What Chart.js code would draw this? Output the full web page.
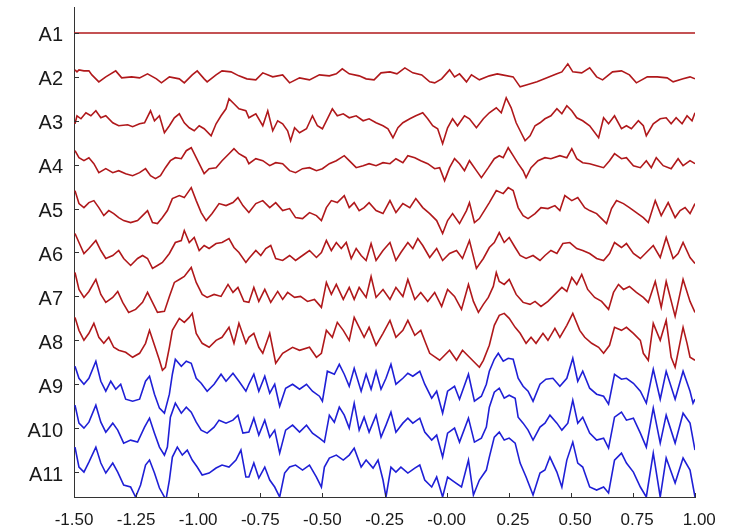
<!DOCTYPE html>
<html>
<head>
<meta charset="utf-8">
<title>EEG channels A1-A11</title>
<script src="https://cdn.jsdelivr.net/npm/chart.js@4.4.1/dist/chart.umd.min.js"></script>
<style>
    html, body { margin: 0; padding: 0; background: #fff; }
    #wrap { width: 740px; height: 529px; }
</style>
</head>
<body>
<div id="wrap"><canvas id="eegChart" width="740" height="529"></canvas></div>
<script>
// samples are [index, value]; index at 250 Hz from -1.5 s, value in uV around the channel baseline
const SAMPLE_RATE = 250;
const START_TIME = -1.5;
const CHANNEL_SPACING = 44;

const channelNames = ["A1", "A2", "A3", "A4", "A5", "A6", "A7", "A8", "A9", "A10", "A11"];

const xTickValues = [-1.5, -1.25, -1.0, -0.75, -0.5, -0.25, 0, 0.25, 0.5, 0.75, 1.0];
const xTickLabels = ["-1.50", "-1.25", "-1.00", "-0.75", "-0.50", "-0.25", "-0.00", "0.25", "0.50", "0.75", "1.00"];

const channelA1 = [[0, 0], [625, 0]];

const channelA2 = [[1,7],[3,5],[5,7],[10,6],[15,6],[18,2],[25,-5],[32,0],[42,6],[48,-1],[58,0],[66,-1],[74,3],[83,-2],[88,-6],[96,0],[106,-2],[111,-6],[119,2],[124,6],[131,-2],[134,-5],[143,2],[149,6],[158,5],[166,1],[174,-2],[183,-3],[190,4],[200,0],[210,2],[217,-6],[227,-1],[237,-3],[247,2],[257,1],[264,3],[270,8],[277,3],[287,1],[294,-2],[302,-3],[309,4],[318,5],[325,3],[333,9],[341,4],[350,2],[358,-5],[363,-6],[370,-2],[378,7],[383,0],[388,3],[395,-5],[400,2],[408,-3],[418,1],[426,3],[431,2],[442,0],[449,-10],[456,-8],[466,-5],[476,-1],[486,3],[491,5],[497,13],[502,5],[511,4],[519,9],[526,0],[532,-3],[542,5],[551,6],[559,2],[566,-6],[577,0],[587,0],[597,-1],[603,-5],[613,-2],[620,0],[625,-2]];

const channelA3 = [[1,-3],[3,5],[7,2],[12,8],[17,5],[22,10],[27,3],[32,5],[39,-2],[45,-5],[54,-4],[59,-6],[66,-3],[71,-2],[77,10],[81,0],[86,5],[91,-12],[96,-5],[101,3],[106,7],[111,-2],[116,-7],[121,-10],[126,-5],[131,-8],[138,-15],[143,-3],[148,5],[153,12],[156,22],[161,17],[166,12],[173,10],[176,3],[183,7],[190,-5],[195,10],[200,-10],[205,0],[210,-3],[215,-10],[218,-20],[222,-7],[227,-12],[234,-8],[240,5],[245,-5],[250,-8],[255,2],[260,12],[265,5],[271,7],[277,3],[284,5],[291,0],[297,2],[304,-2],[311,-5],[316,-8],[321,-17],[326,-7],[331,-2],[338,2],[344,5],[351,8],[356,2],[361,-5],[366,-8],[371,-23],[376,-7],[381,2],[386,-5],[393,5],[398,2],[405,-7],[412,2],[418,8],[425,13],[430,8],[435,23],[440,13],[445,-2],[450,-12],[454,-20],[459,-15],[464,-5],[469,-2],[474,2],[480,5],[486,12],[491,7],[496,15],[501,10],[506,3],[512,0],[519,-5],[528,-17],[533,3],[538,-3],[544,5],[551,-8],[556,-5],[561,-8],[568,0],[573,-5],[576,-15],[583,-3],[590,2],[596,3],[601,-3],[606,3],[612,-3],[617,5],[622,0],[625,8]];

const channelA4 = [[1,14],[5,7],[10,4],[15,7],[20,1],[25,-8],[32,-4],[39,-8],[45,-6],[52,-9],[59,-11],[66,-8],[72,-4],[77,-11],[82,-14],[87,-11],[92,-3],[97,4],[102,7],[108,6],[113,14],[118,17],[123,7],[128,-3],[131,-9],[136,-4],[143,-3],[149,4],[156,11],[161,16],[166,11],[173,7],[176,1],[183,6],[190,4],[197,-1],[203,2],[210,1],[217,-6],[223,-8],[230,-4],[237,-3],[244,-6],[250,-4],[257,1],[264,4],[272,9],[277,4],[284,-3],[291,-1],[297,1],[304,-1],[311,2],[318,1],[324,6],[331,2],[336,9],[343,7],[349,4],[356,1],[363,-4],[368,-3],[373,-16],[378,-3],[383,6],[388,1],[393,-6],[398,4],[405,-6],[410,-13],[417,-3],[423,6],[428,9],[432,7],[437,17],[442,9],[447,1],[452,-6],[455,-13],[460,-3],[467,4],[474,7],[480,6],[489,9],[496,7],[501,16],[506,6],[512,2],[519,1],[526,-1],[533,-3],[539,4],[544,11],[551,6],[556,7],[563,-1],[570,-3],[576,4],[581,-3],[586,7],[593,-1],[601,-4],[608,6],[613,-1],[620,4],[625,1]];

const channelA5 = [[1,18],[5,5],[10,1],[15,6],[20,8],[25,1],[30,-7],[35,-2],[40,-5],[45,-9],[50,-12],[57,-14],[64,-12],[69,-7],[74,-2],[79,-14],[84,-15],[89,-9],[94,-2],[99,10],[106,13],[111,11],[118,21],[123,8],[128,-4],[133,-12],[139,-5],[146,5],[153,3],[160,6],[165,11],[170,3],[176,-4],[183,5],[190,8],[197,1],[203,6],[210,-2],[217,0],[223,-9],[230,-10],[237,-4],[244,-7],[249,-12],[254,1],[259,8],[265,6],[272,13],[277,1],[282,6],[287,-2],[292,1],[297,6],[304,-2],[311,-5],[318,8],[324,-4],[331,5],[338,1],[344,10],[351,1],[358,-5],[365,-12],[371,-25],[376,-12],[381,-5],[388,-15],[395,-2],[398,6],[403,-14],[408,-10],[413,-2],[418,6],[425,18],[432,15],[437,21],[442,18],[447,1],[452,-7],[457,-10],[464,-5],[470,1],[477,0],[484,3],[489,-2],[494,13],[501,8],[507,11],[514,1],[519,-2],[526,-5],[531,-10],[536,-15],[541,0],[546,8],[553,5],[559,1],[566,-4],[573,-9],[578,-14],[585,8],[591,-7],[598,6],[605,-9],[610,-2],[615,1],[620,-5],[625,5]];

const channelA6 = [[1,19],[5,10],[10,-1],[15,4],[22,12],[27,2],[32,-6],[39,-3],[45,2],[50,-6],[57,-13],[64,-6],[69,-3],[74,-6],[79,-16],[84,-13],[89,-10],[96,-1],[102,10],[108,12],[111,22],[116,10],[121,15],[126,2],[131,7],[136,4],[143,9],[149,10],[156,14],[161,5],[166,0],[173,-10],[176,-6],[183,2],[188,-3],[193,4],[198,7],[203,-6],[210,-8],[217,-3],[223,-8],[230,-3],[237,2],[244,-5],[249,0],[254,12],[259,2],[264,10],[269,4],[274,10],[279,-6],[284,4],[289,-3],[294,-8],[299,9],[304,-8],[311,2],[318,10],[324,-8],[329,0],[336,10],[341,4],[346,14],[351,7],[358,-5],[365,4],[371,-8],[378,-1],[385,2],[391,-6],[398,12],[405,-16],[412,-6],[418,5],[423,10],[428,20],[433,10],[438,15],[444,5],[449,-3],[455,-6],[462,-3],[469,-8],[474,-3],[480,2],[486,-1],[492,9],[499,10],[506,4],[512,2],[519,-1],[526,-6],[533,-8],[539,-1],[544,10],[551,5],[556,9],[563,-1],[570,-6],[576,0],[583,7],[590,-5],[596,15],[603,-6],[608,-1],[613,10],[620,-5],[625,-11]];

const channelA7 = [[1,24],[5,7],[10,-1],[15,5],[22,17],[27,2],[32,-6],[39,-1],[44,5],[49,-6],[55,-16],[62,-13],[69,-6],[74,4],[79,-6],[84,-16],[91,-15],[96,0],[101,14],[106,17],[111,20],[118,29],[123,14],[129,2],[134,-1],[141,2],[148,0],[155,12],[160,4],[165,9],[171,-5],[176,-6],[181,9],[186,-5],[192,7],[198,-6],[205,5],[210,-3],[215,4],[222,-1],[228,0],[235,-5],[242,-3],[249,-11],[254,14],[259,2],[264,12],[271,-3],[277,9],[282,-3],[287,9],[294,-1],[299,20],[304,-1],[311,7],[318,-3],[324,9],[331,0],[336,17],[343,-3],[349,4],[356,-5],[363,4],[370,-10],[376,7],[383,0],[390,-13],[397,12],[402,-5],[407,-16],[412,-8],[417,-1],[422,10],[425,24],[428,15],[433,12],[438,17],[445,2],[452,-6],[459,-8],[464,-5],[470,-10],[477,-5],[484,2],[491,9],[496,5],[501,19],[506,12],[511,22],[517,7],[524,-1],[531,-5],[538,-13],[543,4],[548,12],[553,7],[559,10],[566,4],[573,-1],[578,-6],[585,15],[591,-11],[596,15],[605,-20],[613,17],[620,-5],[625,-16]];

const channelA8 = [[1,23],[5,10],[10,0],[15,7],[20,17],[25,3],[30,-3],[35,3],[40,-7],[45,-10],[52,-12],[59,-17],[66,-13],[72,-3],[76,10],[81,-5],[86,-20],[89,-30],[92,-27],[96,-7],[99,10],[106,22],[111,18],[116,23],[119,27],[123,7],[129,-3],[136,-7],[143,0],[149,3],[156,13],[161,-3],[166,17],[173,-3],[176,3],[181,7],[186,-7],[190,-13],[197,7],[203,-23],[210,-13],[220,-7],[227,-10],[237,-7],[244,-17],[249,-13],[254,10],[260,3],[265,18],[271,10],[277,0],[282,23],[287,13],[292,3],[297,13],[304,-5],[311,7],[318,20],[324,3],[331,10],[336,20],[343,5],[349,10],[354,-3],[358,-13],[368,-20],[378,-10],[385,-20],[391,-10],[398,-17],[408,-27],[412,-20],[418,-5],[423,15],[428,25],[433,27],[438,22],[444,13],[449,7],[455,-3],[460,3],[465,-3],[472,7],[477,0],[484,12],[489,3],[496,15],[502,27],[509,10],[514,3],[521,-3],[528,-7],[533,-13],[539,-5],[544,13],[551,10],[556,13],[563,7],[570,0],[573,-13],[578,-20],[583,17],[590,0],[596,20],[601,-17],[605,-27],[613,13],[617,-3],[620,-17],[625,-20]];

const channelA9 = [[1,18],[5,6],[10,0],[15,6],[22,23],[27,3],[32,-7],[37,3],[42,-5],[47,0],[52,-15],[59,-17],[66,-15],[72,3],[76,8],[81,-10],[86,-24],[91,-29],[96,-10],[99,10],[102,25],[108,18],[113,23],[118,21],[123,6],[128,1],[134,-7],[141,0],[148,10],[153,3],[160,11],[166,3],[173,-7],[176,0],[181,10],[186,-7],[192,8],[197,-9],[202,0],[207,-22],[213,-4],[220,0],[227,-5],[234,0],[240,-7],[247,-12],[250,-17],[255,13],[262,10],[267,20],[272,10],[277,-2],[282,16],[289,-7],[294,10],[299,-5],[304,13],[309,-5],[314,6],[319,20],[324,0],[331,6],[336,11],[341,8],[348,13],[353,0],[360,-14],[365,-7],[371,-29],[376,-7],[383,-2],[388,-15],[397,10],[403,-17],[410,-12],[415,0],[418,13],[423,25],[427,31],[432,23],[437,26],[442,25],[447,6],[452,-2],[457,-7],[462,-17],[469,0],[475,5],[482,6],[489,-2],[496,6],[502,26],[507,3],[512,13],[519,-4],[526,-10],[533,-12],[538,-20],[544,10],[551,5],[556,6],[563,1],[570,-7],[576,-19],[583,15],[590,-15],[596,13],[605,-15],[613,13],[620,-7],[623,-19],[625,-15]];

const channelA10 = [[1,23],[5,5],[10,0],[15,6],[22,23],[27,6],[32,-4],[39,5],[44,-2],[50,-15],[57,-12],[64,-14],[71,1],[76,10],[81,-5],[86,-19],[91,-27],[94,-19],[97,11],[102,25],[108,15],[113,21],[118,16],[123,6],[128,-2],[134,-5],[141,1],[146,8],[153,5],[160,8],[165,13],[170,-5],[176,-4],[181,10],[186,-7],[192,8],[197,-9],[202,-2],[207,-25],[213,-2],[220,3],[227,-4],[234,3],[240,-5],[247,-10],[252,-14],[257,13],[262,6],[267,21],[272,13],[277,0],[282,25],[287,-2],[292,11],[297,-4],[304,13],[309,-9],[314,3],[319,16],[324,-4],[331,5],[336,10],[341,5],[348,10],[353,-4],[360,-12],[365,-7],[371,-29],[376,-5],[383,0],[388,-14],[397,10],[403,-14],[410,-10],[415,1],[418,21],[423,36],[428,40],[433,30],[438,33],[444,30],[447,11],[452,5],[457,-2],[462,-12],[469,1],[474,5],[479,13],[486,5],[491,-2],[497,5],[502,28],[507,5],[512,11],[519,-5],[526,-12],[533,-10],[538,-20],[544,11],[551,16],[556,8],[563,10],[570,-5],[576,-19],[583,20],[590,-15],[596,13],[605,-15],[613,15],[620,5],[625,-22]];

const channelA11 = [[1,25],[5,5],[10,0],[15,10],[22,25],[27,9],[32,-1],[39,9],[44,0],[50,-13],[57,-15],[62,-25],[67,-13],[72,7],[76,12],[81,-1],[86,-16],[91,-25],[92,-31],[96,-8],[99,15],[104,25],[109,17],[114,22],[119,12],[124,5],[129,-3],[136,-1],[143,4],[149,7],[156,5],[163,12],[168,22],[173,-5],[176,-5],[181,9],[186,-6],[192,5],[197,-8],[202,-15],[207,-25],[212,-1],[217,5],[223,7],[230,2],[237,7],[244,-5],[249,-15],[252,5],[257,14],[264,17],[271,12],[277,17],[282,24],[289,5],[294,12],[301,4],[306,12],[311,-8],[314,-25],[319,5],[324,0],[329,5],[336,-1],[343,4],[348,7],[353,-8],[360,-15],[365,-5],[371,-25],[376,-5],[383,-10],[390,-15],[397,12],[402,-23],[408,-8],[415,2],[418,15],[423,35],[428,40],[433,32],[438,34],[444,29],[449,9],[455,-5],[462,-23],[469,-1],[474,2],[479,15],[486,0],[491,-15],[496,12],[502,30],[507,9],[512,5],[519,-15],[526,-18],[533,-15],[538,-21],[544,12],[551,19],[556,9],[563,0],[570,-15],[576,-25],[583,19],[590,-25],[596,14],[605,-11],[613,14],[620,2],[625,-25]];

const channelSamples =
[
    channelA1, channelA2, channelA3, channelA4, channelA5, channelA6,
    channelA7, channelA8, channelA9, channelA10, channelA11
];

// channels from A9 on are drawn in blue
const FIRST_BLUE_CHANNEL = 8;
const RED = "#b0181b";
const BLUE = "#1f1fd6";
const AXIS_COLOR = "#333333";
const TEXT_COLOR = "#1a1a1a";
const FONT_FAMILY = "'Liberation Sans', Arial, Helvetica, sans-serif";

function channelBaseline(index)
{
    return (channelNames.length - 1 - index) * CHANNEL_SPACING;
}

function toPoints(samples, baseline)
{
    return samples.map((s) =>
    {
        return {
            x: START_TIME + s[0] / SAMPLE_RATE,
            y: baseline + s[1]
        };
    });
}

function createDatasets()
{
    return channelSamples.map((samples, index) =>
    {
        const color = index >= FIRST_BLUE_CHANNEL ? BLUE : RED;

        return {
            label: channelNames[index],
            data: toPoints(samples, channelBaseline(index)),
            borderColor: color,
            backgroundColor: color,
            borderWidth: 1.6,
            pointRadius: 0,
            tension: 0,
            fill: false
        };
    });
}

// MATLAB style ticks pointing into the plot
const inwardTicks =
{
    id: "inwardTicks",
    afterDraw(chart)
    {
        const ctx = chart.ctx;
        const xScale = chart.scales.x;
        const yScale = chart.scales.y;

        ctx.save();
        ctx.strokeStyle = AXIS_COLOR;
        ctx.lineWidth = 1;
        ctx.beginPath();

        xTickValues.forEach((value) =>
        {
            const px = Math.round(xScale.getPixelForValue(value)) + 0.5;
            ctx.moveTo(px, yScale.bottom);
            ctx.lineTo(px, yScale.bottom - 4);
        });

        channelNames.forEach((name, index) =>
        {
            const py = Math.round(yScale.getPixelForValue(channelBaseline(index))) + 0.5;
            ctx.moveTo(xScale.left, py);
            ctx.lineTo(xScale.left + 5, py);
        });

        ctx.stroke();
        ctx.restore();
    }
};

window.addEventListener("load", () =>
{
    if (typeof Chart === "undefined")
    {
        console.warn("Chart.js not loaded");
        return;
    }

    const canvas = document.getElementById("eegChart");

    new Chart(canvas.getContext("2d"),
    {
        type: "line",
        data:
        {
            datasets: createDatasets()
        },
        options:
        {
            animation: false,
            responsive: false,
            parsing: false,
            normalized: true,
            layout:
            {
                padding: { left: 0, right: 45, top: 7, bottom: 0 }
            },
            plugins:
            {
                legend: { display: false },
                tooltip: { enabled: false }
            },
            scales:
            {
                x:
                {
                    type: "linear",
                    min: -1.5,
                    max: 1.0,
                    afterBuildTicks(scale)
                    {
                        scale.ticks = xTickValues.map((value) =>
                        {
                            return { value: value };
                        });
                    },
                    afterFit(scale)
                    {
                        scale.height = 32;
                        scale.paddingLeft = 0;
                        scale.paddingRight = 0;
                    },
                    grid: { display: false, drawTicks: false },
                    border: { display: true, color: AXIS_COLOR, width: 1 },
                    ticks:
                    {
                        autoSkip: false,
                        maxRotation: 0,
                        padding: 13,
                        color: TEXT_COLOR,
                        font: { family: FONT_FAMILY, size: 17 },
                        callback(value, index)
                        {
                            const label = xTickLabels[index];

                            if (label.startsWith("-"))
                            {
                                return label;
                            }

                            return "\u2002" + label;
                        }
                    }
                },
                y:
                {
                    type: "linear",
                    min: -25,
                    max: 466,
                    afterBuildTicks(scale)
                    {
                        scale.ticks = channelNames.map((name, index) =>
                        {
                            return { value: channelBaseline(index) };
                        }).reverse();
                    },
                    afterFit(scale)
                    {
                        scale.width = 74;
                        scale.paddingTop = 0;
                        scale.paddingBottom = 0;
                    },
                    grid: { display: false, drawTicks: false },
                    border: { display: true, color: AXIS_COLOR, width: 1 },
                    ticks:
                    {
                        autoSkip: false,
                        padding: 11,
                        labelOffset: 3,
                        color: TEXT_COLOR,
                        font: { family: FONT_FAMILY, size: 20 },
                        callback(value)
                        {
                            const index = channelNames.length - 1 - Math.round(value / CHANNEL_SPACING);
                            return channelNames[index];
                        }
                    }
                }
            }
        },
        plugins: [inwardTicks]
    });
});
</script>
</body>
</html>
